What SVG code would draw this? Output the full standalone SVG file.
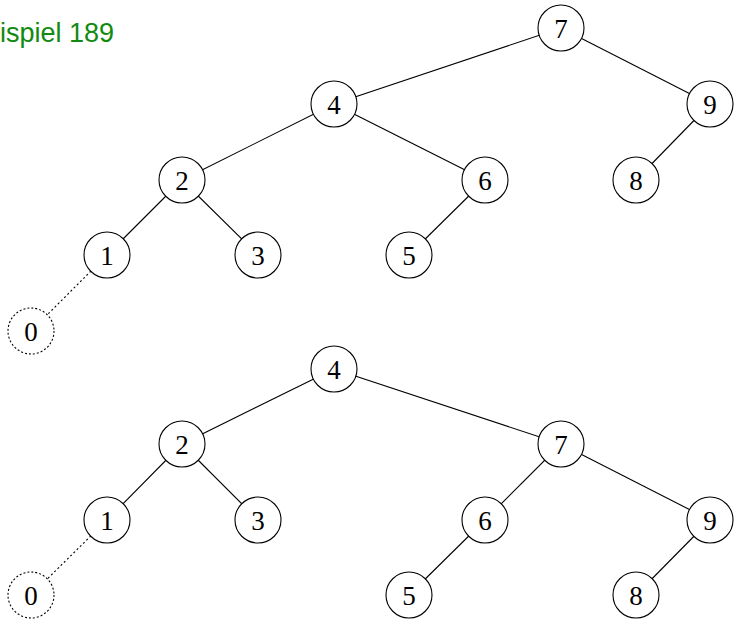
<svg xmlns="http://www.w3.org/2000/svg" width="735" height="619" viewBox="0 0 735 619">
<style>
.n circle{fill:#fff;stroke:#000;stroke-width:1.1}
.n.d circle{stroke-dasharray:2,2}
.n text{font-family:"Liberation Serif",serif;font-size:27px;text-anchor:middle;dominant-baseline:central;fill:#000}
.e line{stroke:#000;stroke-width:1.1}
.e line.d{stroke-dasharray:2,2.5}
.title{font-family:"Liberation Sans",sans-serif;font-size:27px;fill:#118a11}
</style>
<rect width="735" height="619" fill="#fff"/>
<text class="title" x="0" y="42">ispiel 189</text>
<g class="e" id="connectors">
<line x1="561" y1="28" x2="334" y2="104"/>
<line x1="561" y1="28" x2="710" y2="104"/>
<line x1="334" y1="104" x2="182" y2="180"/>
<line x1="334" y1="104" x2="485" y2="180"/>
<line x1="710" y1="104" x2="636" y2="180"/>
<line x1="182" y1="180" x2="107" y2="255"/>
<line x1="182" y1="180" x2="258" y2="255"/>
<line x1="485" y1="180" x2="409" y2="255"/>
<line class="d" x1="107" y1="255" x2="31" y2="331"/>
<line x1="334" y1="369" x2="182" y2="444"/>
<line x1="334" y1="369" x2="561" y2="444"/>
<line x1="182" y1="444" x2="107" y2="520"/>
<line x1="182" y1="444" x2="258" y2="520"/>
<line x1="561" y1="444" x2="485" y2="520"/>
<line x1="561" y1="444" x2="710" y2="520"/>
<line class="d" x1="107" y1="520" x2="31" y2="595"/>
<line x1="485" y1="520" x2="409" y2="595"/>
<line x1="710" y1="520" x2="636" y2="595"/>
</g>
<g class="n" id="t1-7"><circle cx="561" cy="28" r="23"/><text x="561" y="29">7</text></g>
<g class="n" id="t1-4"><circle cx="334" cy="104" r="23"/><text x="334" y="105">4</text></g>
<g class="n" id="t1-9"><circle cx="710" cy="104" r="23"/><text x="710" y="105">9</text></g>
<g class="n" id="t1-2"><circle cx="182" cy="180" r="23"/><text x="182" y="181">2</text></g>
<g class="n" id="t1-6"><circle cx="485" cy="180" r="23"/><text x="485" y="181">6</text></g>
<g class="n" id="t1-8"><circle cx="636" cy="180" r="23"/><text x="636" y="181">8</text></g>
<g class="n" id="t1-1"><circle cx="107" cy="255" r="23"/><text x="107" y="256">1</text></g>
<g class="n" id="t1-3"><circle cx="258" cy="255" r="23"/><text x="258" y="256">3</text></g>
<g class="n" id="t1-5"><circle cx="409" cy="255" r="23"/><text x="409" y="256">5</text></g>
<g class="n d" id="t1-0"><circle cx="31" cy="331" r="23"/><text x="31" y="332">0</text></g>
<g class="n" id="t2-4"><circle cx="334" cy="369" r="23"/><text x="334" y="370">4</text></g>
<g class="n" id="t2-2"><circle cx="182" cy="444" r="23"/><text x="182" y="445">2</text></g>
<g class="n" id="t2-7"><circle cx="561" cy="444" r="23"/><text x="561" y="445">7</text></g>
<g class="n" id="t2-1"><circle cx="107" cy="520" r="23"/><text x="107" y="521">1</text></g>
<g class="n" id="t2-3"><circle cx="258" cy="520" r="23"/><text x="258" y="521">3</text></g>
<g class="n" id="t2-6"><circle cx="485" cy="520" r="23"/><text x="485" y="521">6</text></g>
<g class="n" id="t2-9"><circle cx="710" cy="520" r="23"/><text x="710" y="521">9</text></g>
<g class="n d" id="t2-0"><circle cx="31" cy="595" r="23"/><text x="31" y="596">0</text></g>
<g class="n" id="t2-5"><circle cx="409" cy="595" r="23"/><text x="409" y="596">5</text></g>
<g class="n" id="t2-8"><circle cx="636" cy="595" r="23"/><text x="636" y="596">8</text></g>
</svg>
